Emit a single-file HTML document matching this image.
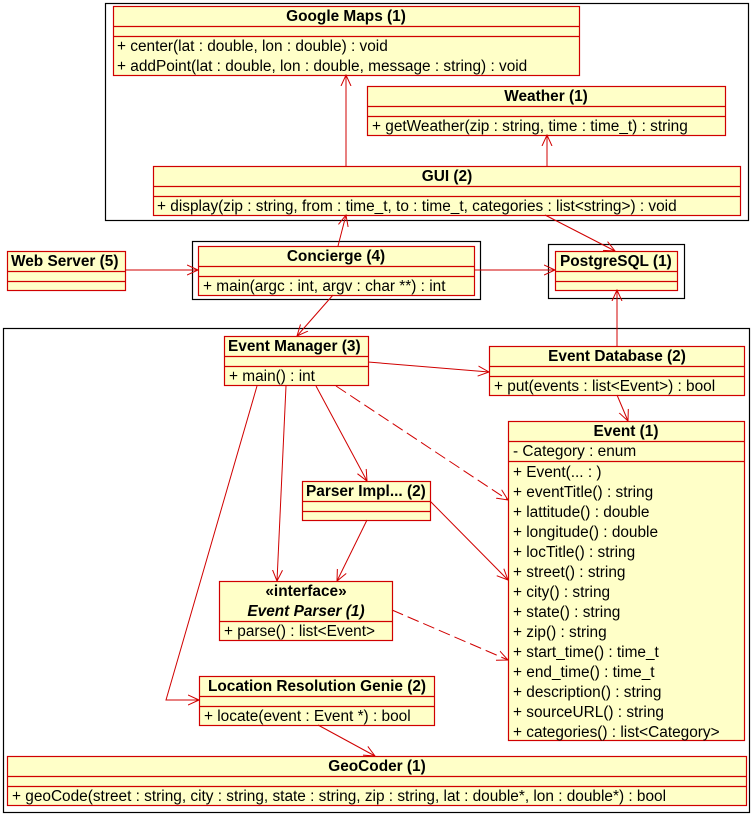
<!DOCTYPE html>
<html><head><meta charset="utf-8"><style>
html,body{margin:0;padding:0;background:#fff;}
svg{display:block;}
text{font-family:"Liberation Sans",Arial,sans-serif;font-size:15.4px;fill:#000;}
.h{font-weight:bold;text-anchor:middle;}
</style></head><body>
<svg width="752" height="815" viewBox="0 0 752 815" xmlns="http://www.w3.org/2000/svg">
<defs>
<marker id="a" markerWidth="12" markerHeight="12" refX="11" refY="6" orient="auto" markerUnits="userSpaceOnUse">
<path d="M0,1 L11,6 L0,11" fill="none" stroke="#d00000" stroke-width="1"/>
</marker>
</defs>
<g fill="none" stroke="#000" stroke-width="1.2">
<rect x="105.5" y="3.5" width="643" height="217"/>
<rect x="192.5" y="241.5" width="288" height="58"/>
<rect x="548.5" y="244.5" width="136" height="54"/>
<rect x="3.5" y="328.5" width="746" height="484"/>
</g>
<g fill="#ffffc8" stroke="#d00000" stroke-width="1.2">
<rect x="113.5" y="6.5" width="466" height="69"/><path d="M113.5 26.5H579.5M113.5 36.5H579.5"/>
<rect x="367.5" y="86.5" width="358" height="49"/><path d="M367.5 106.5H725.5M367.5 116.5H725.5"/>
<rect x="153.5" y="166.5" width="587" height="49"/><path d="M153.5 186.5H740.5M153.5 196.5H740.5"/>
<rect x="7.5" y="251.5" width="118" height="39"/><path d="M7.5 271.5H125.5M7.5 281.5H125.5"/>
<rect x="198.5" y="246.5" width="276" height="49"/><path d="M198.5 266.5H474.5M198.5 276.5H474.5"/>
<rect x="555.5" y="251.5" width="122" height="39"/><path d="M555.5 271.5H677.5M555.5 281.5H677.5"/>
<rect x="224.5" y="336.5" width="144" height="49"/><path d="M224.5 356.5H368.5M224.5 366.5H368.5"/>
<rect x="489.5" y="346.5" width="255" height="49"/><path d="M489.5 366.5H744.5M489.5 376.5H744.5"/>
<rect x="508.5" y="421.5" width="236" height="319"/><path d="M508.5 441.5H744.5M508.5 461.5H744.5"/>
<rect x="302.5" y="481.5" width="128" height="39"/><path d="M302.5 501.5H430.5M302.5 511.5H430.5"/>
<rect x="219.5" y="581.5" width="173" height="59"/><path d="M219.5 621.5H392.5"/>
<rect x="199.5" y="676.5" width="235" height="49"/><path d="M199.5 696.5H434.5M199.5 706.5H434.5"/>
<rect x="7.5" y="756.5" width="739" height="49"/><path d="M7.5 776.5H746.5M7.5 786.5H746.5"/>
</g>
<g fill="none" stroke="#d00000" stroke-width="1" marker-end="url(#a)">
<path d="M346 166V75"/>
<path d="M547 166V135"/>
<path d="M338 246L346 215"/>
<path d="M545 215L615 251"/>
<path d="M125 270H198"/>
<path d="M474 270H555"/>
<path d="M333 295L297 336"/>
<path d="M617 346V290"/>
<path d="M368 362L489 372"/>
<path d="M617 395L628 421"/>
<path d="M336 386L508 500" stroke-dasharray="12,5"/>
<path d="M316 386L367 481"/>
<path d="M286 386L277 581"/>
<path d="M257 386L166 700H199"/>
<path d="M367 520L337 581"/>
<path d="M430 501L508 580"/>
<path d="M392 610L508 660" stroke-dasharray="12,5"/>
<path d="M318 725L375 756"/>
</g>
<text class="h" x="346" y="21">Google Maps (1)</text>
<text x="117" y="51">+ center(lat : double, lon : double) : void</text>
<text x="117" y="71">+ addPoint(lat : double, lon : double, message : string) : void</text>
<text class="h" x="546" y="101">Weather (1)</text>
<text x="372" y="131">+ getWeather(zip : string, time : time_t) : string</text>
<text class="h" x="447" y="181">GUI (2)</text>
<text x="157" y="211">+ display(zip : string, from : time_t, to : time_t, categories : list&lt;string&gt;) : void</text>
<text x="11" y="266" style="font-weight:bold">Web Server (5)</text>
<text class="h" x="336" y="261">Concierge (4)</text>
<text x="203" y="291">+ main(argc : int, argv : char **) : int</text>
<text x="560" y="266" style="font-weight:bold">PostgreSQL (1)</text>
<text x="228" y="351" style="font-weight:bold">Event Manager (3)</text>
<text x="229" y="381">+ main() : int</text>
<text class="h" x="617" y="361">Event Database (2)</text>
<text x="494" y="391">+ put(events : list&lt;Event&gt;) : bool</text>
<text class="h" x="626" y="436">Event (1)</text>
<text x="513" y="456">- Category : enum</text>
<text x="513" y="477">+ Event(... : )</text>
<text x="513" y="497">+ eventTitle() : string</text>
<text x="513" y="517">+ lattitude() : double</text>
<text x="513" y="537">+ longitude() : double</text>
<text x="513" y="557">+ locTitle() : string</text>
<text x="513" y="577">+ street() : string</text>
<text x="513" y="597">+ city() : string</text>
<text x="513" y="617">+ state() : string</text>
<text x="513" y="637">+ zip() : string</text>
<text x="513" y="657">+ start_time() : time_t</text>
<text x="513" y="677">+ end_time() : time_t</text>
<text x="513" y="697">+ description() : string</text>
<text x="513" y="717">+ sourceURL() : string</text>
<text x="513" y="737">+ categories() : list&lt;Category&gt;</text>
<text x="306" y="496" style="font-weight:bold">Parser Impl... (2)</text>
<text class="h" x="306" y="596">«interface»</text>
<text class="h" x="306" y="616" style="font-style:italic">Event Parser (1)</text>
<text x="224" y="636">+ parse() : list&lt;Event&gt;</text>
<text class="h" x="317" y="691">Location Resolution Genie (2)</text>
<text x="204" y="721">+ locate(event : Event *) : bool</text>
<text class="h" x="377" y="771">GeoCoder (1)</text>
<text x="12" y="801">+ geoCode(street : string, city : string, state : string, zip : string, lat : double*, lon : double*) : bool</text>
</svg>
</body></html>
